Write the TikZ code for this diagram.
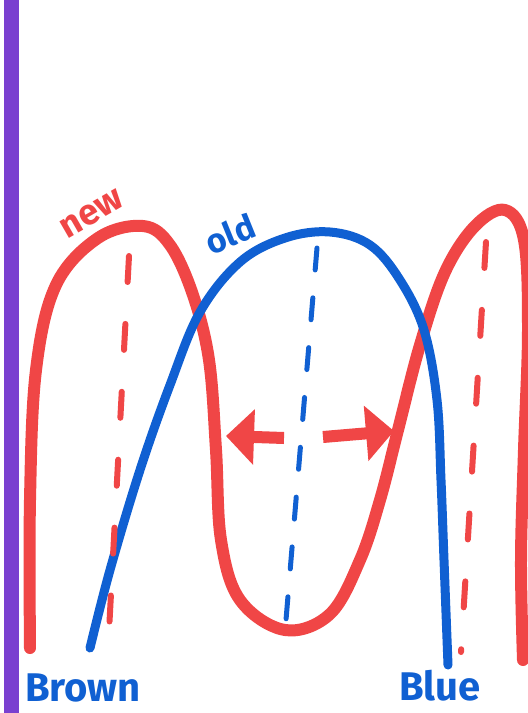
\documentclass[tikz,border=0pt]{standalone}
\usepackage{fontspec}
\setmainfont{Fira Sans}
\usepackage{xcolor}
\usetikzlibrary{arrows.meta}

\definecolor{markred}{RGB}{240,70,70}
\definecolor{markblue}{RGB}{16,96,210}
\definecolor{markpurple}{RGB}{122,64,208}

\begin{document}
\begin{tikzpicture}[
		x=1pt, y=-1pt,
		newcurve/.style={markred, line width=12pt, line cap=round, line join=round},
		oldcurve/.style={markblue, line width=9pt, line cap=round, line join=round},
		reddash/.style={markred, line width=6pt, line cap=round, dash pattern=on 26pt off 42pt},
		bluedash/.style={markblue, line width=5pt, line cap=round, dash pattern=on 22pt off 28pt},
		bigarrow/.style={markred, line width=12pt, -{Triangle[length=28pt,width=54pt]}},
		hand/.style={font=\fontsize{34}{34}\selectfont\bfseries, inner sep=1pt},
		]
		\useasboundingbox[fill=white] (0,0) rectangle (528,713);

		% margin line
		\draw[markpurple, line width=15pt] (11,-5) -- (11,720);

		% new curve
		\draw[newcurve] plot[smooth, tension=0.6] coordinates {
			(30,648) (30,500) (36,370) (56,285) (98,238) (143,226) (170,245)
			(193,295) (209,360) (216,450) (221,540) (240,600) (285,630)
			(330,614) (360,560) (380,500) (398,430) (420,345) (445,272)
			(475,226) (505,210) (524,240) (528,330) (524,450) (521,560) (523,660)};

		% old curve
		\draw[oldcurve] plot[smooth, tension=0.6] coordinates {
			(90,648) (110,570) (140,470) (170,385) (200,312) (240,262)
			(285,238) (330,232) (370,245) (400,280) (424,330) (437,400)
			(441,480) (444,560) (448,665)};

		% centre lines
		\coordinate (ltop) at (129,256);
		\coordinate (lbot) at (108,650);
		\coordinate (mtop) at (317,248);
		\coordinate (mbot) at (285,632);
		\coordinate (rtop) at (486,242);
		\coordinate (rbot) at (461,652);
		\draw[reddash] (ltop) -- (lbot);
		\draw[bluedash] (mtop) -- (mbot);
		\draw[reddash] (rtop) -- (rbot);

		% spreading arrows
		\coordinate (lfrom) at (284,438);
		\coordinate (lto) at (226,436);
		\coordinate (rfrom) at (323,437);
		\coordinate (rto) at (394,431);
		\draw[bigarrow] (lfrom) -- (lto);
		\draw[bigarrow] (rfrom) -- (rto);

		% labels
		\node[hand, markred, rotate=30, font=\fontsize{36}{36}\selectfont\bfseries] (newlbl) at (92,214) {new};
		\node[hand, markblue, rotate=22] (oldlbl) at (230,234) {old};
		\node[hand, markblue, font=\fontsize{40}{40}\selectfont\bfseries] (brown) at (83,688) {Brown};
		\node[hand, markblue, font=\fontsize{40}{40}\selectfont\bfseries] (blue) at (440,686) {Blue};
\end{tikzpicture}
\end{document}
